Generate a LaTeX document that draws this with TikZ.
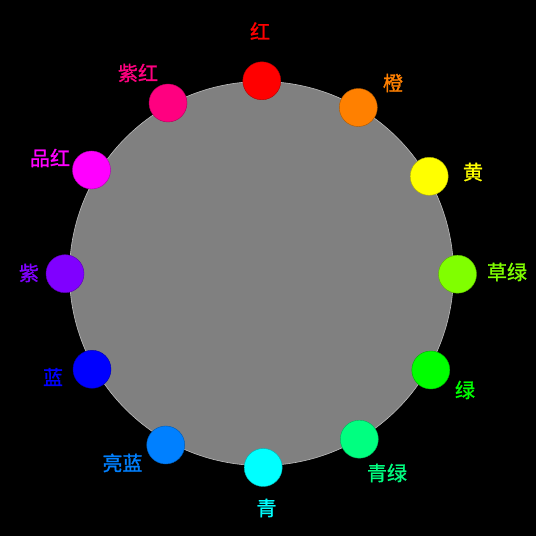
\documentclass[tikz,border=0pt]{standalone}
\usepackage{fontspec}
\newfontfamily\cjk[FakeBold=1.2]{Noto Sans CJK SC}
\definecolor{cA}{RGB}{255,0,0}
\definecolor{cB}{RGB}{255,128,0}
\definecolor{cC}{RGB}{255,255,0}
\definecolor{cD}{RGB}{128,255,0}
\definecolor{cE}{RGB}{0,255,0}
\definecolor{cF}{RGB}{0,255,128}
\definecolor{cG}{RGB}{0,255,255}
\definecolor{cH}{RGB}{0,128,255}
\definecolor{cI}{RGB}{0,0,255}
\definecolor{cJ}{RGB}{128,0,255}
\definecolor{cK}{RGB}{255,0,255}
\definecolor{cL}{RGB}{255,0,128}
\definecolor{wheelgray}{RGB}{128,128,128}
\definecolor{rimgray}{RGB}{190,190,190}
\begin{document}
\begin{tikzpicture}[x=1pt,y=1pt,
  dot/.style={circle,inner sep=0pt,minimum size=38pt,draw=#1!70!black,fill=#1,line width=0.4pt},
  lab/.style={font=\cjk\fontsize{20}{24}\selectfont,inner sep=0pt,text=#1}]
\useasboundingbox (0,0) rectangle (536,536);
\fill[black] (0,0) rectangle (536,536);
\node[circle,inner sep=0pt,minimum size=384pt,fill=wheelgray,draw=rimgray,line width=0.6pt] (big) at (261.5,262.5) {};
\node[dot=cA] (dA) at (261.8,455.2) {};
\node[dot=cB] (dB) at (358.3,428.5) {};
\node[dot=cC] (dC) at (429.2,359.7) {};
\node[dot=cD] (dD) at (457.5,261.8) {};
\node[dot=cE] (dE) at (430.8,166) {};
\node[dot=cF] (dF) at (359.3,96.8) {};
\node[dot=cG] (dG) at (263.2,68.5) {};
\node[dot=cH] (dH) at (165.7,91) {};
\node[dot=cI] (dI) at (92,166.7) {};
\node[dot=cJ] (dJ) at (65,262.3) {};
\node[dot=cK] (dK) at (91.5,366) {};
\node[dot=cL] (dL) at (168,433) {};
\node[lab=cA] (tA) at (260,505) {红};
\node[lab=cB] (tB) at (393,453) {橙};
\node[lab=cC] (tC) at (473,364) {黄};
\node[lab=cD] (tD) at (507,264) {草绿};
\node[lab=cE] (tE) at (465,146) {绿};
\node[lab=cF] (tF) at (387,63) {青绿};
\node[lab=cG] (tG) at (266.5,28) {青};
\node[lab=cH] (tH) at (122.5,73) {亮蓝};
\node[lab=cI] (tI) at (53,159) {蓝};
\node[lab=cJ] (tJ) at (29,263) {紫};
\node[lab=cK] (tK) at (50,378) {品红};
\node[lab=cL] (tL) at (138,463) {紫红};
\end{tikzpicture}
\end{document}
